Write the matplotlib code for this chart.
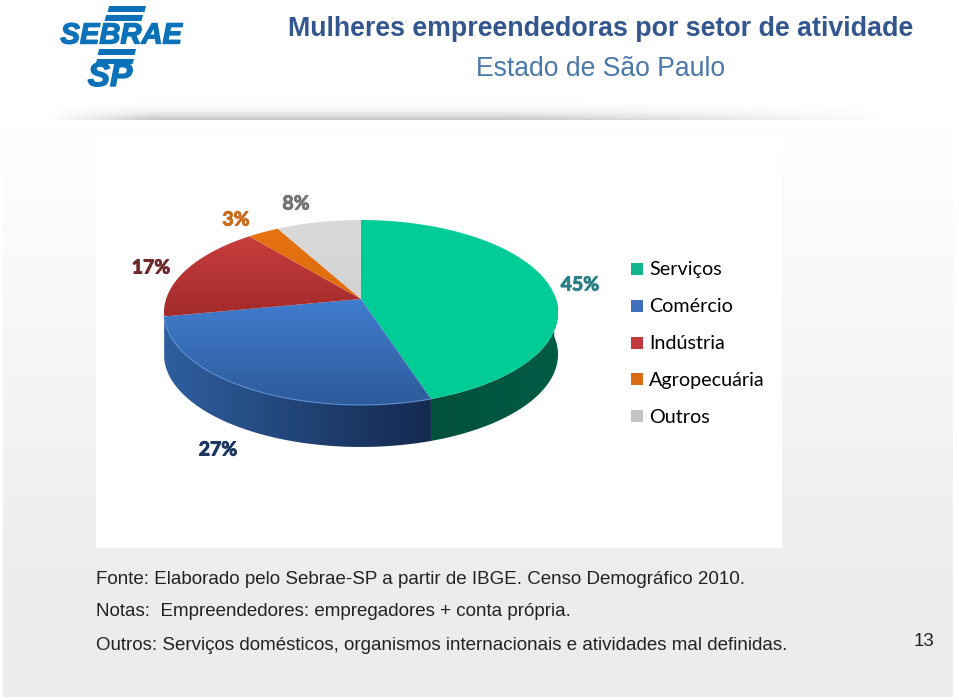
import numpy as np
import matplotlib
matplotlib.use('Agg')
import matplotlib.pyplot as plt
from matplotlib.patches import Polygon, Rectangle
import matplotlib.patheffects as pe

# chart values
categories = ['Serviços', 'Comércio', 'Indústria', 'Agropecuária', 'Outros']
shares = [45, 27, 17, 3, 8]
share_labels = ['45%', '27%', '17%', '3%', '8%']
label_colors = ['#2c8088', '#1c3561', '#6e2a2c', '#c8691c', '#737373']
label_pos = [(580, 285), (218, 450), (151, 268), (236, 220), (296, 204)]

# top face gradient (top colour, bottom colour)
top_colors = [('#00cc98', '#00cc96'), ('#417dcf', '#2d5a9a'), ('#c83e3e', '#a32a2a'),
              ('#e4730f', '#e06c10'), ('#dadada', '#d2d2d2')]
wall_colors = [('#005c44', '#00513c'), ('#2f5f9f', '#14294f')]
legend_colors = ['#12b48c', '#3f70bd', '#c0393c', '#d96b14', '#c4c4c4']

title = 'Mulheres empreendedoras por setor de atividade'
subtitle = 'Estado de São Paulo'
notes = ['Fonte: Elaborado pelo Sebrae-SP a partir de IBGE. Censo Demográfico 2010.',
         'Notas:  Empreendedores: empregadores + conta própria.',
         'Outros: Serviços domésticos, organismos internacionais e atividades mal definidas.']
page = '13'

# pie geometry on the page, in pixels
cx, apex_y = 361, 299
a, c, p = 194.9, 90.5, 0.146
depth = 42


def disk(theta):
    # tilted disk, the middle of the disk lands above the middle of the ellipse
    u, v = np.cos(theta), np.sin(theta)
    w = 1 + p * v
    return cx + a * u / w, apex_y - c * v / w


def vgrad(c1, c2, n=256):
    rgb = np.linspace(matplotlib.colors.to_rgb(c1), matplotlib.colors.to_rgb(c2), n)
    return rgb[:, None, :]


def hgrad(c1, c2, n=256):
    rgb = np.linspace(matplotlib.colors.to_rgb(c1), matplotlib.colors.to_rgb(c2), n)
    return rgb[None, :, :]


def fill_grad(ax, pts, img, zorder):
    pts = np.array(pts)
    patch = Polygon(pts, closed=True, facecolor='none', edgecolor='none', zorder=zorder)
    ax.add_patch(patch)
    ext = (pts[:, 0].min(), pts[:, 0].max(), pts[:, 1].max(), pts[:, 1].min())
    im = ax.imshow(img, extent=ext, aspect='auto', zorder=zorder, interpolation='bilinear')
    im.set_clip_path(patch)


fig = plt.figure(figsize=(9.59, 7.0), dpi=100, facecolor='white')
ax = fig.add_axes([0, 0, 1, 1])
ax.axis('off')

# page background, white at the top going to light grey
ax.imshow(vgrad('#ffffff', '#ececec'), extent=(3, 953, 600, 125), aspect='auto', zorder=0)
ax.add_patch(Rectangle((3, 600), 950, 97, facecolor='#ececec', edgecolor='none', zorder=0))

# chart picture background
ax.add_patch(Rectangle((96, 135), 686, 413, facecolor='white', edgecolor='none', zorder=1))

# shadow under the header
shade = np.zeros((30, 400, 4))
shade[..., :3] = 0.5
fade_y = np.linspace(0, 1, 30) ** 3
fade_x = np.clip(np.minimum(np.linspace(0, 8, 400), np.linspace(2.2, 0, 400)), 0, 1)
shade[..., 3] = np.outer(fade_y, fade_x) * 0.45
ax.imshow(shade, extent=(50, 888, 120, 96), aspect='auto', zorder=2)

# walls, drawn first so the top face sits over them
cuts = np.cumsum([0] + shares) / sum(shares)
angles = np.pi / 2 - 2 * np.pi * cuts
for i in range(2):
    t0, t1 = angles[i], angles[i + 1]
    t = np.linspace(t0, t1, 120)
    # only the part of the rim facing the viewer
    t = t[np.sin(t) <= 0.06]
    x, y = disk(t)
    pts = list(zip(x, y)) + list(zip(x[::-1], y[::-1] + depth))
    fill_grad(ax, pts, hgrad(*wall_colors[i]) if i == 1 else hgrad(wall_colors[i][1], wall_colors[i][0]), 3)

# top face
for i in range(len(shares)):
    t = np.linspace(angles[i], angles[i + 1], 120)
    x, y = disk(t)
    pts = [(cx, apex_y)] + list(zip(x, y))
    fill_grad(ax, pts, vgrad(*top_colors[i]), 4)

# light rim on the blue slice
t = np.linspace(angles[1], angles[2], 120)
x, y = disk(t)
ax.plot(x, y, color='#5f8fd6', lw=0.9, alpha=0.8, zorder=5)

for s, col, pos in zip(share_labels, label_colors, label_pos):
    txt = ax.text(pos[0], pos[1], s, color=col, fontsize=14, fontweight='bold', family='Lato',
                  ha='center', va='center', zorder=6)
    txt.set_path_effects([pe.withStroke(linewidth=0.7, foreground=col)])

# legend
for i, name in enumerate(categories):
    yc = 269 + i * 36.8
    ax.add_patch(Rectangle((631, yc - 6), 12, 12, facecolor=legend_colors[i], edgecolor='none', zorder=5))
    ax.text(649, yc + 1, name, color='black', fontsize=14.2, family='Lato', ha='left', va='center', zorder=6)

# logo
blue = '#0b72b9'
for x0, y0, y1 in [(107.5, 6, 12), (104.5, 15, 21), (97.5, 49, 55), (95.5, 59, 64)]:
    ax.add_patch(Polygon([(x0, y1), (x0 + 1.7, y0), (x0 + 38.5, y0), (x0 + 37, y1)],
                         facecolor=blue, edgecolor='none', zorder=5))
sebrae = ax.text(121, 35.5, 'SEBRAE', color=blue, fontsize=21, fontweight='bold', style='italic',
                 family='Liberation Sans', ha='center', va='center', zorder=5)
sebrae.set_path_effects([pe.withStroke(linewidth=1.0, foreground=blue)])
sp = ax.text(110, 77.5, 'SP', color=blue, fontsize=24, fontweight='bold', style='italic',
             family='Liberation Sans', ha='center', va='center', zorder=5)
sp.set_path_effects([pe.withStroke(linewidth=1.0, foreground=blue)])

# header text
ax.text(288, 29, title, color='#33568f', fontsize=19.3, fontweight='bold', family='Liberation Sans',
        ha='left', va='center', zorder=5)
ax.text(476, 69, subtitle, color='#4b78ab', fontsize=19.1, family='Liberation Sans',
        ha='left', va='center', zorder=5)

# notes
ax.text(96, 580, notes[0], color='#222222', fontsize=13.5, family='Liberation Sans', ha='left', va='center', zorder=5)
ax.text(96, 612, notes[1], color='#222222', fontsize=13.5, family='Liberation Sans', ha='left', va='center', zorder=5)
ax.text(96, 646, notes[2], color='#222222', fontsize=13.5, family='Liberation Sans', ha='left', va='center', zorder=5)
ax.text(924, 641, page, color='#222222', fontsize=13.5, family='Liberation Sans', ha='center', va='center', zorder=5)

ax.set_xlim(0, 959)
ax.set_ylim(700, 0)
fig.savefig('out.png', dpi=100, facecolor=fig.get_facecolor())
